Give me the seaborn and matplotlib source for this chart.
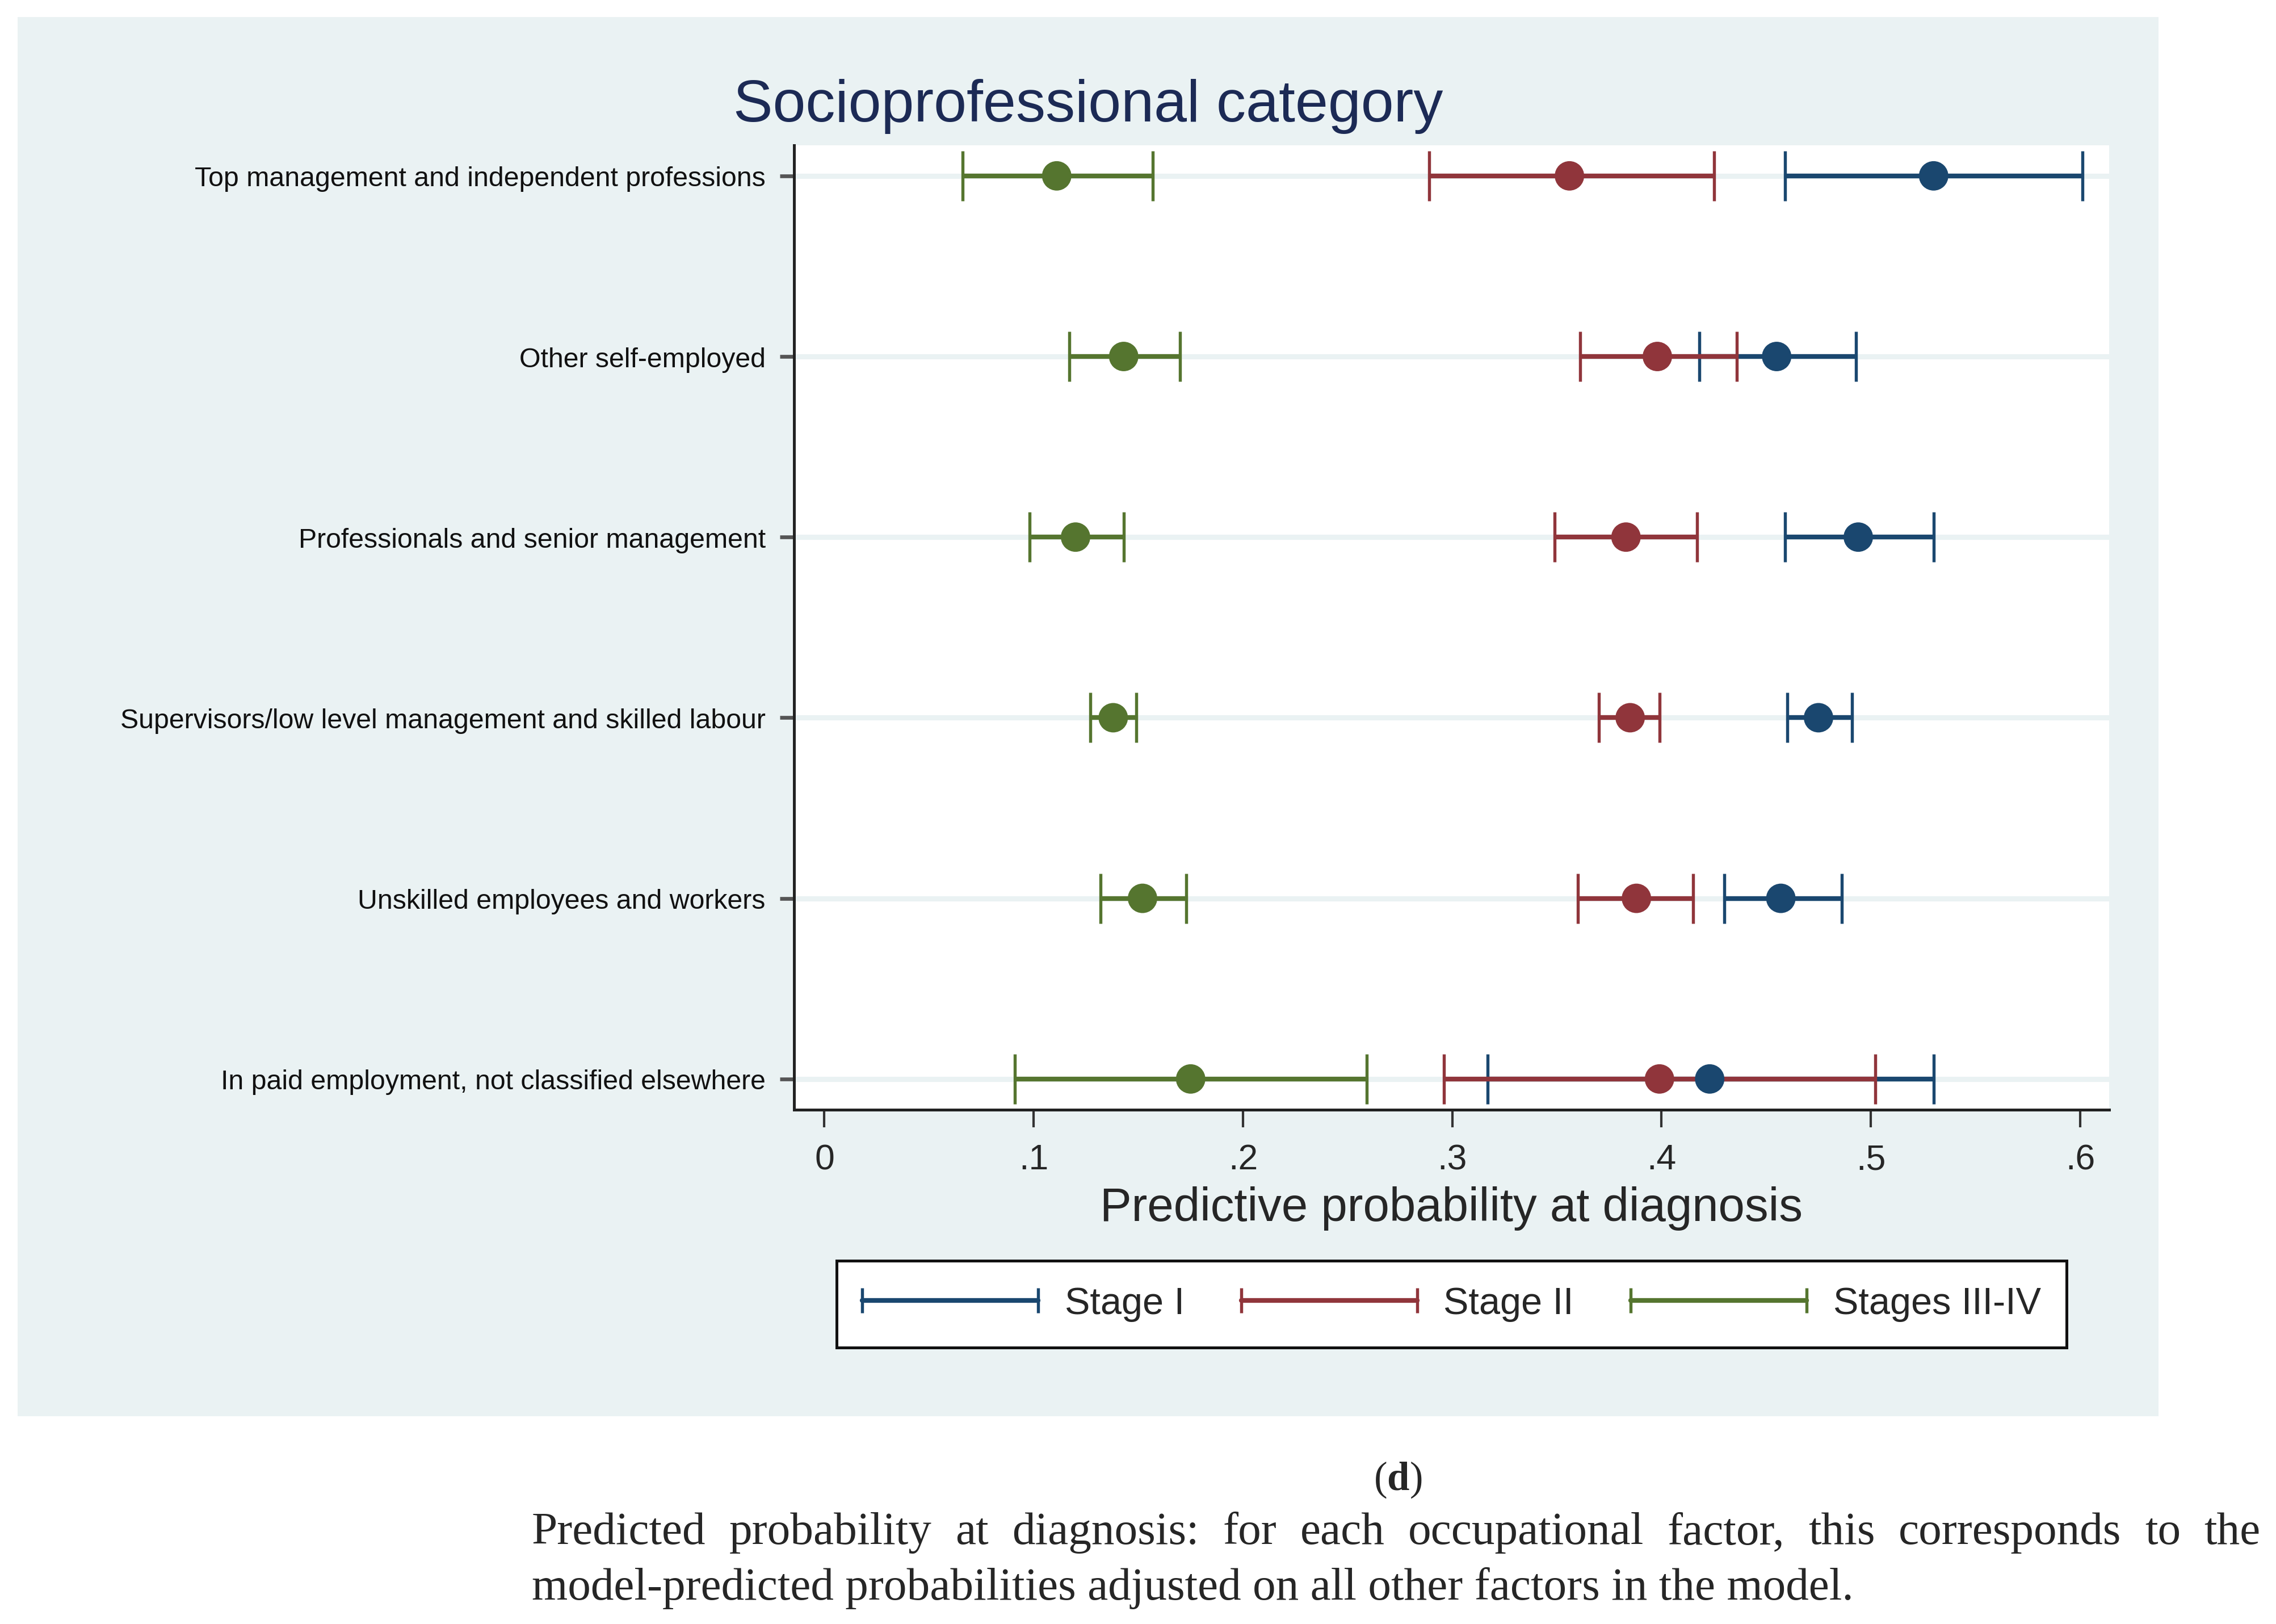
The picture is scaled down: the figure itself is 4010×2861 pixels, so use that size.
import numpy as np
import pandas as pd
import matplotlib
matplotlib.use("Agg")
import matplotlib.pyplot as plt
import seaborn as sns
from matplotlib.patches import Rectangle
from matplotlib.lines import Line2D
from matplotlib.legend_handler import HandlerLine2D

# Data
categories = [
    "Top management and independent professions",
    "Other self-employed",
    "Professionals and senior management",
    "Supervisors/low level management and skilled labour",
    "Unskilled employees and workers",
    "In paid employment, not classified elsewhere",
]
stages = ["Stage I", "Stage II", "Stages III-IV"]

stage1_est = [0.530, 0.455, 0.494, 0.475, 0.457, 0.423]
stage1_lo = [0.459, 0.418, 0.459, 0.460, 0.430, 0.317]
stage1_hi = [0.601, 0.493, 0.530, 0.491, 0.486, 0.530]

stage2_est = [0.356, 0.398, 0.383, 0.385, 0.388, 0.399]
stage2_lo = [0.289, 0.361, 0.349, 0.370, 0.360, 0.296]
stage2_hi = [0.425, 0.436, 0.417, 0.399, 0.415, 0.502]

stage3_est = [0.111, 0.143, 0.120, 0.138, 0.152, 0.175]
stage3_lo = [0.066, 0.117, 0.098, 0.127, 0.132, 0.091]
stage3_hi = [0.157, 0.170, 0.143, 0.149, 0.173, 0.259]

xticks = [0, 0.1, 0.2, 0.3, 0.4, 0.5, 0.6]
xtick_labels = ["0", ".1", ".2", ".3", ".4", ".5", ".6"]

colors = {"Stage I": "#1a476f", "Stage II": "#90353b", "Stages III-IV": "#55752f"}

# Long table for seaborn
rows = []
for stage, est, lo, hi in zip(stages,
                              [stage1_est, stage2_est, stage3_est],
                              [stage1_lo, stage2_lo, stage3_lo],
                              [stage1_hi, stage2_hi, stage3_hi]):
    for i, cat in enumerate(categories):
        rows.append({"stage": stage, "category": cat, "pos": i,
                     "est": est[i], "lo": lo[i], "hi": hi[i]})
df = pd.DataFrame(rows)

sns.set_theme(style="white")
plt.rcParams["font.family"] = ["Liberation Sans", "DejaVu Sans"]
plt.rcParams["mathtext.fontset"] = "custom"
plt.rcParams["mathtext.rm"] = "Liberation Serif"
plt.rcParams["mathtext.bf"] = "Liberation Serif:bold"

W, H = 4011, 2862
fig = plt.figure(figsize=(W / 300, H / 300), dpi=300, facecolor="white")

# light blue-grey graph region
fig.patches.append(Rectangle((0.0077, 0.128), 0.9405, 0.861, transform=fig.transFigure,
                             facecolor="#eaf2f3", edgecolor="none", zorder=-5))

ax = fig.add_axes([0.3487, 0.3166, 0.5777, 0.5937])
ax.set_facecolor("white")

# grid lines at each category
for i in range(len(categories)):
    ax.axhline(i, color="#eaf2f3", lw=2.2, zorder=0)

# confidence intervals
for stage in stages:
    d = df[df["stage"] == stage]
    ax.errorbar(d["est"], d["pos"],
                xerr=[d["est"] - d["lo"], d["hi"] - d["est"]],
                fmt="none", ecolor=colors[stage], elinewidth=2.0,
                capsize=10.5, capthick=1.3, zorder=2)

# point estimates
sns.scatterplot(data=df, x="est", y="pos", hue="stage", palette=colors,
                s=155, edgecolor="none", legend=False, ax=ax, zorder=3)

ax.set_xlim(-0.0146, 0.6138)
ax.set_ylim(len(categories) - 1 + 0.17, -0.17)
ax.set_xticks(xticks)
ax.set_xticklabels(xtick_labels, fontsize=15)
ax.set_yticks(range(len(categories)))
ax.set_yticklabels(categories, fontsize=11.6, color="#111111")
ax.tick_params(axis="x", direction="out", length=7.5, width=1.0, color="#333333",
               pad=6.5, bottom=True)
ax.tick_params(axis="y", direction="out", length=6, width=1.6, color="#555555",
               pad=6, left=True)
for side in ["top", "right"]:
    ax.spines[side].set_visible(False)
for side in ["left", "bottom"]:
    ax.spines[side].set_color("#222222")
    ax.spines[side].set_linewidth(1.2)

ax.set_xlabel("Predictive probability at diagnosis", fontsize=20, labelpad=4)
ax.set_ylabel("")

fig.text(0.478, 0.9345, "Socioprofessional category", fontsize=25, color="#1c2a55",
         ha="center", va="center")

# legend: line with caps at both ends, like the confidence intervals
handles = [Line2D([], [], color=colors[s], lw=2.0, marker="|", markersize=10.5,
                  markeredgewidth=1.3) for s in stages]
leg = ax.legend(handles, stages, loc="center", bbox_to_anchor=(0.6376, 0.1969),
                bbox_transform=fig.transFigure, ncol=3, fontsize=16,
                numpoints=2, handlelength=4.65, handletextpad=0.7, columnspacing=1.5,
                frameon=True, fancybox=False, framealpha=1, borderpad=0.68,
                handler_map={Line2D: HandlerLine2D(marker_pad=0)})
leg.get_frame().set_edgecolor("#111111")
leg.get_frame().set_linewidth(1.2)
leg.get_frame().set_facecolor("white")

# panel label and caption (serif)
fig.text(0.614, 0.089, r"($\mathbf{d}$)", fontsize=17, ha="center", va="center",
         family="Liberation Serif")

cap_lines = [
    "Predicted probability at diagnosis: for each occupational factor, this corresponds to the",
    "model-predicted probabilities adjusted on all other factors in the model.",
]
cap_size = 19.5
x0, x1 = 0.2335, 0.993
fig.canvas.draw()
renderer = fig.canvas.get_renderer()
# first line justified word by word
words = cap_lines[0].split()
texts = [fig.text(0, 0.0565, w, fontsize=cap_size, family="Liberation Serif", va="center")
         for w in words]
widths = [t.get_window_extent(renderer).width / fig.bbox.width for t in texts]
gap = (x1 - x0 - sum(widths)) / (len(words) - 1)
xpos = x0
for t, w in zip(texts, widths):
    t.set_x(xpos)
    xpos += w + gap
fig.text(x0, 0.0224, cap_lines[1], fontsize=cap_size, family="Liberation Serif", va="center")

fig.savefig("out.png", dpi=300, facecolor="white")
